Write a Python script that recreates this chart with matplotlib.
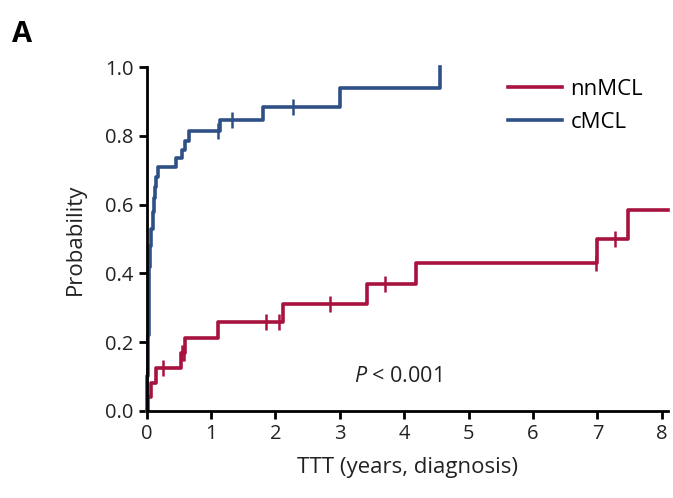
import matplotlib
matplotlib.use('Agg')
import matplotlib.pyplot as plt
import numpy as np

# cumulative probability (Kaplan-Meier style), step times in years
cmcl_t = [0, 0.01, 0.02, 0.03, 0.04, 0.05, 0.07, 0.09, 0.11, 0.13, 0.15, 0.18,
          0.45, 0.55, 0.60, 0.66, 1.14, 1.80, 3.0, 4.55]
cmcl_p = [0, 0.10, 0.22, 0.33, 0.42, 0.48, 0.53, 0.58, 0.62, 0.65, 0.68, 0.71,
          0.735, 0.76, 0.785, 0.815, 0.845, 0.885, 0.94, 1.0]
cmcl_cens_t = [1.10, 1.33, 2.27]
cmcl_cens_p = [0.815, 0.845, 0.885]

nnmcl_t = [0, 0.02, 0.06, 0.14, 0.54, 0.59, 1.10, 2.11, 3.42, 4.18, 7.0, 7.47, 8.1]
nnmcl_p = [0, 0.04, 0.08, 0.125, 0.167, 0.213, 0.26, 0.31, 0.37, 0.43, 0.50, 0.585, 0.585]
nnmcl_cens_t = [0.25, 0.55, 0.58, 1.86, 2.06, 2.84, 3.70, 6.98, 7.28]
nnmcl_cens_p = [0.125, 0.167, 0.167, 0.26, 0.26, 0.31, 0.37, 0.43, 0.50]

red = "#A8123E"
blue = "#2F5086"

plt.rcParams['font.family'] = ['Open Sans', 'DejaVu Sans']
plt.rcParams['mathtext.fontset'] = 'custom'
plt.rcParams['mathtext.it'] = 'Open Sans:italic'

fig = plt.figure(figsize=(6.73, 4.98), dpi=100)
ax = fig.add_axes([0.218, 0.175, 0.775, 0.69])

ax.step(nnmcl_t, nnmcl_p, where="post", color=red, lw=2.6, label="nnMCL", clip_on=False)
ax.step(cmcl_t, cmcl_p, where="post", color=blue, lw=2.6, label="cMCL", clip_on=False)
ax.plot(nnmcl_cens_t, nnmcl_cens_p, ls="none", marker="|", ms=11, mew=1.8, color=red)
ax.plot(cmcl_cens_t, cmcl_cens_p, ls="none", marker="|", ms=11, mew=1.8, color=blue)

ax.set_xlim(0, 8.1)
ax.set_ylim(0, 1.0)
ax.set_xticks(np.arange(0, 9, 1))
ax.set_yticks(np.arange(0, 1.01, 0.2))
ax.set_yticklabels([f"{v:.1f}" for v in np.arange(0, 1.01, 0.2)])
for s in ["top", "right"]:
    ax.spines[s].set_visible(False)
for s in ["left", "bottom"]:
    ax.spines[s].set_linewidth(2)
ax.tick_params(width=2, length=6, labelsize=14.5, colors="black", labelcolor="#222222")

ax.set_ylabel("Probability", fontsize=16, color="#222222", labelpad=14)
ax.set_xlabel("TTT (years, diagnosis)", fontsize=16, color="#222222", labelpad=9)

ax.text(3.22, 0.085, r"$P$ < 0.001", fontsize=15.5, color="#222222")
ax.legend(loc="upper right", bbox_to_anchor=(0.99, 1.025), frameon=False,
          fontsize=16, handlelength=2.4, handletextpad=0.4, labelspacing=0.55)

fig.text(0.018, 0.915, "A", fontsize=21, fontweight="bold")

plt.savefig("out.png", dpi=100)
